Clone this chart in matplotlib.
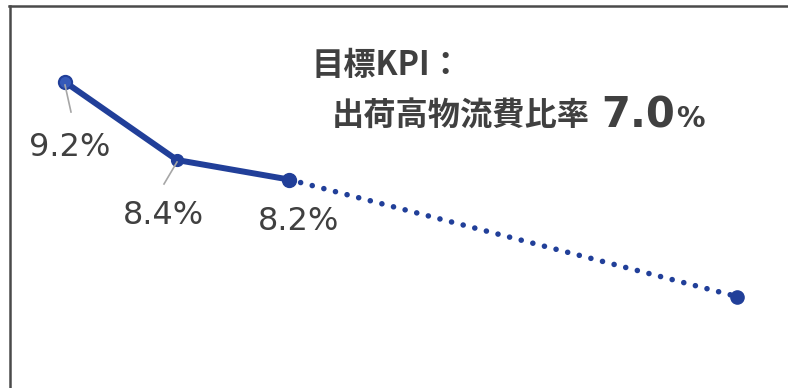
import matplotlib
matplotlib.use("Agg")
import matplotlib.pyplot as plt
from matplotlib.lines import Line2D

# 出荷高物流費比率: actual results followed by the target year
periods = [0, 1, 2, 3, 4, 5, 6]
actual_idx = [0, 1, 2]
actual_vals = [9.2, 8.4, 8.2]
target_idx = 6
target_val = 7.0
actual_labels = ["9.2%", "8.4%", "8.2%"]

LINE = "#213f99"
TEXT = "#404040"
W, H = 788, 388

fig = plt.figure(figsize=(W / 100, H / 100), dpi=100)
ax = fig.add_axes([0, 0, 1, 1])
ax.set_xlim(-0.58, 6.455)
ax.set_ylim(6.062, 10.041)
ax.axis("off")


def px(x, y):
    """Pixel position (from top-left) to figure fraction."""
    return x / W, 1 - y / H


# solid line through the actuals, dotted projection to the target
ax.plot(actual_idx, actual_vals, color=LINE, lw=4.3, solid_capstyle="round",
        zorder=3)
ax.plot([actual_idx[-1], target_idx], [actual_vals[-1], target_val],
        color=LINE, lw=4.0, ls=(0, (0.01, 2.15)), dash_capstyle="round",
        zorder=2)
ax.plot(actual_idx[0], actual_vals[0], "o", ms=9.5, mfc="#3559b8",
        mec=LINE, mew=1.5, zorder=4)
ax.plot(actual_idx[1], actual_vals[1], "o", ms=8.5, color=LINE, zorder=4)
ax.plot(actual_idx[2], actual_vals[2], "o", ms=10, color=LINE, zorder=4)
ax.plot(target_idx, target_val, "o", ms=9.5, color=LINE, zorder=4)

# value labels, the first two with grey leader lines
label_pos = [(70, 148), (163, 216), (299, 221)]
leaders = [((65, 85), (71, 112)), ((177, 162), (164, 184)), None]
for text, (lx, ly), lead in zip(actual_labels, label_pos, leaders):
    fig.text(*px(lx, ly), text, ha="center", va="center", fontsize=23,
             color=TEXT, family="DejaVu Sans")
    if lead is not None:
        (x0, y0), (x1, y1) = lead
        fig.add_artist(Line2D([x0 / W, x1 / W], [1 - y0 / H, 1 - y1 / H],
                              color="#a6a6a6", lw=1.2, zorder=5))

# KPI title block
jp = ["Noto Sans CJK JP", "DejaVu Sans"]
fig.text(*px(312, 66), "目標KPI：", ha="left", va="center", fontsize=23.2,
         fontweight="bold", color=TEXT, family=jp)
fig.text(*px(332, 126), "出荷高物流費比率", ha="left", va="baseline",
         fontsize=23.2, fontweight="bold", color=TEXT, family=jp)
big = fig.text(*px(601, 127), "7.0", ha="left", va="baseline", fontsize=30,
               fontweight="bold", color=TEXT, family="DejaVu Sans")
fig.canvas.draw()
right = big.get_window_extent().x1
fig.text(right / W + 1 / W, px(0, 127)[1], "%", ha="left", va="baseline",
         fontsize=20.5, fontweight="bold", color=TEXT, family="DejaVu Sans")

# panel frame (left and top edges)
fig.add_artist(Line2D([px(9.5, 0)[0]] * 2, [px(0, 6)[1], 0], color="#4a4a4a",
                      lw=1.8))
fig.add_artist(Line2D([px(9, 0)[0], 1], [px(0, 6)[1]] * 2, color="#4a4a4a",
                      lw=1.8))

fig.savefig("out.png", dpi=100)
